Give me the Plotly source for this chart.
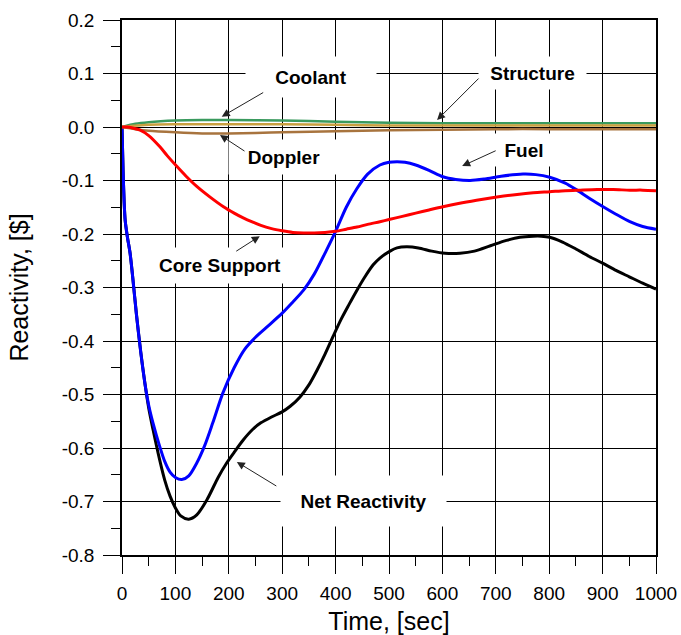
import plotly.graph_objects as go

# ---------------- data ----------------
fuel_t = [0, 2, 4, 6, 10, 15, 20, 27, 35, 43, 50, 58, 70, 80, 90, 100, 112, 125, 140, 155, 170, 189, 210, 230,
          250, 270, 300, 320, 340, 360, 383, 400, 420, 440, 460, 483, 500, 515, 530, 550, 575, 601, 625, 652,
          680, 710, 751, 775, 801, 830, 852, 875, 901, 925, 951, 975, 1000]
fuel_r = [0, -0.08, -0.14, -0.175, -0.205, -0.235, -0.28, -0.35, -0.42, -0.48, -0.52, -0.553, -0.595, -0.625,
          -0.645, -0.655, -0.659, -0.652, -0.628, -0.595, -0.553, -0.497, -0.45, -0.415, -0.393, -0.375, -0.348,
          -0.327, -0.305, -0.275, -0.23, -0.195, -0.15, -0.115, -0.088, -0.071, -0.066, -0.065, -0.066, -0.071,
          -0.081, -0.093, -0.098, -0.100, -0.097, -0.092, -0.088, -0.089, -0.094, -0.105, -0.118, -0.133, -0.149,
          -0.163, -0.177, -0.186, -0.191]

net_t = [0, 2, 4, 6, 10, 15, 20, 27, 35, 43, 50, 58, 70, 80, 90, 100, 110, 125, 140, 160, 180, 196, 210, 227,
         245, 260, 280, 299, 315, 333, 350, 365, 380, 395, 410, 425, 440, 455, 470, 483, 502, 515, 533, 555, 580,
         605, 633, 660, 690, 720, 745, 770, 785, 801, 825, 850, 875, 901, 925, 950, 975, 1000]
net_r = [0, -0.08, -0.14, -0.175, -0.205, -0.235, -0.28, -0.35, -0.42, -0.48, -0.525, -0.565, -0.62, -0.66,
         -0.69, -0.712, -0.727, -0.733, -0.725, -0.695, -0.655, -0.628, -0.608, -0.585, -0.565, -0.553, -0.542,
         -0.533, -0.522, -0.505, -0.482, -0.455, -0.425, -0.392, -0.36, -0.332, -0.305, -0.28, -0.258, -0.245,
         -0.232, -0.226, -0.224, -0.226, -0.232, -0.236, -0.236, -0.232, -0.222, -0.212, -0.206, -0.204, -0.204,
         -0.206, -0.215, -0.228, -0.242, -0.255, -0.268, -0.28, -0.292, -0.303]

core_t = [0, 10, 20, 34, 50, 71, 85, 103, 120, 140, 165, 190, 210, 227, 245, 260, 280, 300, 320, 340, 360, 380,
          400, 420, 440, 460, 483, 500, 525, 550, 575, 601, 630, 664, 702, 740, 770, 801, 830, 858, 890, 920,
          951, 975, 1000]
core_r = [0, 0, -0.002, -0.006, -0.016, -0.037, -0.054, -0.074, -0.092, -0.111, -0.131, -0.149, -0.161, -0.17,
          -0.178, -0.184, -0.19, -0.194, -0.197, -0.198, -0.198, -0.197, -0.195, -0.191, -0.187, -0.182, -0.177,
          -0.173, -0.167, -0.161, -0.155, -0.149, -0.143, -0.137, -0.131, -0.126, -0.123, -0.121, -0.119, -0.118,
          -0.117, -0.117, -0.118, -0.118, -0.119]

cool_t = [0, 25, 50, 100, 150, 200, 300, 400, 500, 600, 700, 800, 900, 1000]
cool_r = [0, 0.006, 0.009, 0.012, 0.013, 0.013, 0.012, 0.010, 0.008, 0.007, 0.007, 0.007, 0.007, 0.007]

struct_t = [0, 50, 100, 200, 300, 400, 500, 600, 800, 1000]
struct_r = [0, 0.004, 0.005, 0.005, 0.005, 0.004, 0.003, 0.003, 0.003, 0.003]

dopp_t = [0, 25, 50, 100, 150, 200, 250, 300, 400, 500, 600, 700, 800, 900, 1000]
dopp_r = [0, -0.004, -0.007, -0.010, -0.012, -0.012, -0.011, -0.010, -0.008, -0.006, -0.005, -0.004, -0.004,
          -0.004, -0.004]

x_ticks = [0, 100, 200, 300, 400, 500, 600, 700, 800, 900, 1000]
x_ticktext = ["0", "100", "200", "300", "400", "500", "600", "700", "800", "900", "1000"]
y_ticks = [0.2, 0.1, 0.0, -0.1, -0.2, -0.3, -0.4, -0.5, -0.6, -0.7, -0.8]
y_ticktext = ["0.2", "0.1", "0.0", "-0.1", "-0.2", "-0.3", "-0.4", "-0.5", "-0.6", "-0.7", "-0.8"]

FONT = "Arial, Liberation Sans, sans-serif"

fig = go.Figure()
series = [
    (net_t, net_r, "black", 3),
    (fuel_t, fuel_r, "#0000FF", 3),
    (cool_t, cool_r, "#3A9A5E", 2.5),
    (struct_t, struct_r, "#C9A040", 2.5),
    (dopp_t, dopp_r, "#A8743E", 2.5),
    (core_t, core_r, "#FF0000", 3),
]
for t, r, c, w in series:
    fig.add_trace(go.Scatter(x=t, y=r, mode="lines",
                             line=dict(color=c, width=w, shape="spline", smoothing=0.8),
                             showlegend=False, hoverinfo="skip"))

# ---------------- labels ----------------
labels = [
    # text, x, y, box width, box height
    ("Coolant", 354, 0.0935, 130, 40),
    ("Doppler", 303, -0.056, 110, 34),
    ("Structure", 768, 0.101, 107, 32),
    ("Fuel", 753, -0.043, 64, 32),
    ("Core Support", 184, -0.259, 142, 35),
    ("Net Reactivity", 452, -0.699, 165, 50),
]
for txt, x, y, w, h in labels:
    fig.add_annotation(x=x, y=y, text="<b>%s</b>" % txt, showarrow=False,
                       font=dict(family=FONT, size=19, color="black"),
                       bgcolor="white", width=w, height=h, borderpad=0)

arrows = [
    # tip x, tip y, tail dx, tail dy (pixels)
    (186.7, 0.0193, 43, -25),
    (183.5, -0.015, 26, 17),
    (590, 0.013, 43, -43),
    (637, -0.073, 35, -16),
    (258, -0.204, -25, 16),
    (215, -0.626, 41, 25),
]
for x, y, dx, dy in arrows:
    fig.add_annotation(x=x, y=y, ax=dx, ay=dy, text="", showarrow=True,
                       arrowhead=2, arrowsize=1.6, arrowwidth=1, arrowcolor="#222222")

axis_common = dict(
    showgrid=True, gridcolor="black", gridwidth=1,
    showline=True, linecolor="black", linewidth=1.5, mirror=True,
    ticks="outside", ticklen=17, tickwidth=1, tickcolor="black",
    tickfont=dict(family=FONT, size=19, color="black"),
    zeroline=False, automargin=False,
)

fig.update_xaxes(range=[0, 1000], tickmode="array", tickvals=x_ticks, ticktext=x_ticktext,
                 ticklabelstandoff=3,
                 minor=dict(ticks="outside", ticklen=9, dtick=50, tick0=0, tickcolor="black", showgrid=False),
                 title=dict(text="Time, [sec]", font=dict(family=FONT, size=25, color="black"), standoff=16),
                 **axis_common)
fig.update_yaxes(range=[-0.8, 0.2], tickmode="array", tickvals=y_ticks, ticktext=y_ticktext,
                 ticklabelstandoff=5,
                 minor=dict(ticks="outside", ticklen=9, dtick=0.05, tick0=0, tickcolor="black", showgrid=False),
                 title=dict(text="Reactivity, [$]", font=dict(family=FONT, size=25, color="black"), standoff=26),
                 **axis_common)

fig.update_layout(width=681, height=635, margin=dict(l=122, r=25, t=20, b=80),
                  plot_bgcolor="white", paper_bgcolor="white")

fig.write_html("out.html")
